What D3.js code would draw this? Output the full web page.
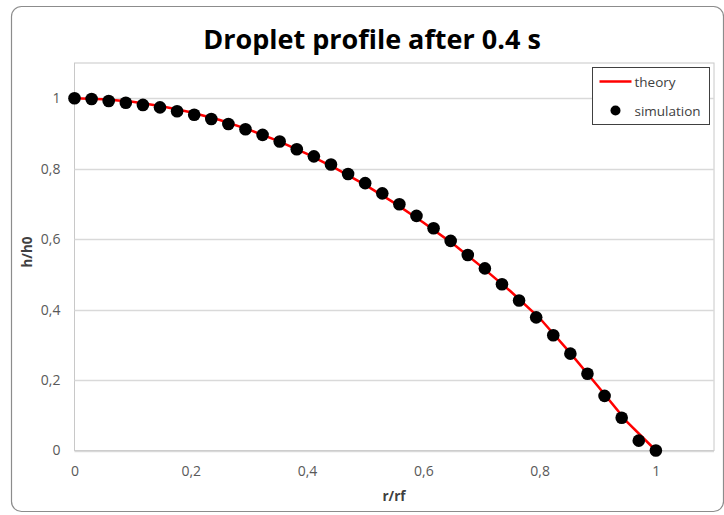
<!DOCTYPE html>
<html>
<head>
<meta charset="utf-8">
<script src="https://cdn.jsdelivr.net/npm/d3@7"></script>
<style>
  body { margin: 0; background: #fff; }
  svg { display: block; font-family: "Open Sans", sans-serif; }
</style>
</head>
<body>
<svg id="plot"></svg>
<script>
const width = 724;
const height = 515;

// simulation points, r/rf = i/34
const simX = d3.range(35).map(i => i / 34);
const simY = [1.0, 0.998, 0.992, 0.987, 0.981, 0.974, 0.963, 0.953, 0.941, 0.927,
  0.912, 0.896, 0.877, 0.855, 0.835, 0.812, 0.785, 0.759, 0.730, 0.699,
  0.666, 0.631, 0.595, 0.555, 0.517, 0.472, 0.426, 0.378, 0.327, 0.275,
  0.218, 0.155, 0.093, 0.028, 0.0];

// theory curve
const theoryX = [0, 0.05, 0.1, 0.15, 0.2, 0.25, 0.3, 0.35, 0.4, 0.45, 0.5,
  0.55, 0.6, 0.65, 0.7, 0.75, 0.8, 0.85, 0.9, 0.95, 1.0];
const theoryY = [1.0, 0.997, 0.990, 0.977, 0.960, 0.938, 0.911, 0.879, 0.842, 0.800, 0.754,
  0.703, 0.647, 0.588, 0.522, 0.452, 0.376, 0.282, 0.183, 0.082, 0.0];

const xTicks = [0, 0.2, 0.4, 0.6, 0.8, 1];
const yTicks = [0, 0.2, 0.4, 0.6, 0.8, 1];

const title = 'Droplet profile after 0.4 s';
const xTitle = 'r/rf';
const yTitle = 'h/h0';
const seriesNames = ['theory', 'simulation'];

const fmt = d => String(d).replace('.', ',');

const plot = {left: 74.5, right: 714, top: 63, bottom: 450.5};

const svg = d3.select('#plot')
  .attr('width', width)
  .attr('height', height);

// chart frame
svg.append('rect')
  .attr('x', 11.5).attr('y', 6.5)
  .attr('width', 712).attr('height', 505)
  .attr('rx', 10).attr('ry', 10)
  .attr('fill', '#fff')
  .attr('stroke', '#8c8c8c')
  .attr('stroke-width', 1.2);

const sx = d3.scaleLinear().domain([0, 1.1]).range([plot.left, plot.right]);
const sy = d3.scaleLinear().domain([0, 1.1]).range([plot.bottom, plot.top]);

// plot area border
svg.append('rect')
  .attr('x', plot.left).attr('y', plot.top)
  .attr('width', plot.right - plot.left)
  .attr('height', plot.bottom - plot.top)
  .attr('fill', 'none')
  .attr('stroke', '#c8c8c8');

// gridlines
svg.append('g')
  .selectAll('line')
  .data(yTicks)
  .enter()
  .append('line')
  .attr('x1', plot.left).attr('x2', plot.right)
  .attr('y1', d => Math.round(sy(d)) + 0.5)
  .attr('y2', d => Math.round(sy(d)) + 0.5)
  .attr('stroke', '#d9d9d9')
  .attr('stroke-width', 1.3);

// axes (labels only)
const ay = d3.axisLeft(sy).tickValues(yTicks).tickFormat(fmt).tickSize(0).tickPadding(14);
const gy = svg.append('g')
  .attr('transform', `translate(${plot.left},0)`)
  .call(ay);
const ax = d3.axisBottom(sx).tickValues(xTicks).tickFormat(fmt).tickSize(0).tickPadding(16);
const gx = svg.append('g')
  .attr('transform', `translate(0,${plot.bottom})`)
  .call(ax);
[gx, gy].forEach(g => {
  g.select('.domain').remove();
  g.selectAll('text')
    .attr('fill', '#595959')
    .style('font-size', '14px')
    .style('font-family', '"Open Sans", sans-serif');
});

// theory line
const line = d3.line()
  .x(d => sx(d[0]))
  .y(d => sy(d[1]));
svg.append('path')
  .datum(theoryX.map((x, i) => [x, theoryY[i]]))
  .attr('d', line)
  .attr('fill', 'none')
  .attr('stroke', '#ff0000')
  .attr('stroke-width', 2.5);

// simulation markers
svg.append('g')
  .selectAll('circle')
  .data(simX.map((x, i) => [x, simY[i]]))
  .enter()
  .append('circle')
  .attr('cx', d => sx(d[0]))
  .attr('cy', d => sy(d[1]))
  .attr('r', 6.3)
  .attr('fill', '#000');

// titles
svg.append('text')
  .attr('x', 372).attr('y', 49)
  .attr('text-anchor', 'middle')
  .style('font-size', '27px')
  .style('font-weight', 'bold')
  .attr('fill', '#000')
  .text(title);

svg.append('text')
  .attr('x', 394).attr('y', 501)
  .attr('text-anchor', 'middle')
  .style('font-size', '13.5px')
  .style('font-weight', 'bold')
  .attr('fill', '#404040')
  .text(xTitle);

svg.append('text')
  .attr('transform', 'translate(32,252) rotate(-90)')
  .attr('text-anchor', 'middle')
  .style('font-size', '13.5px')
  .style('font-weight', 'bold')
  .attr('fill', '#404040')
  .text(yTitle);

// legend
const legend = svg.append('g').attr('transform', 'translate(592.5,67.5)');
legend.append('rect')
  .attr('width', 117).attr('height', 57)
  .attr('fill', '#fff')
  .attr('stroke', '#404040');
legend.append('line')
  .attr('x1', 7).attr('x2', 39)
  .attr('y1', 14).attr('y2', 14)
  .attr('stroke', '#ff0000')
  .attr('stroke-width', 2.5);
legend.append('circle')
  .attr('cx', 23).attr('cy', 43)
  .attr('r', 5)
  .attr('fill', '#000');
legend.selectAll('.ltext')
  .data(seriesNames)
  .enter()
  .append('text')
  .attr('class', 'ltext')
  .attr('x', 42)
  .attr('y', (d, i) => 19 + i * 29)
  .style('font-size', '13.5px')
  .attr('fill', '#404040')
  .text(d => d);
</script>
</body>
</html>
